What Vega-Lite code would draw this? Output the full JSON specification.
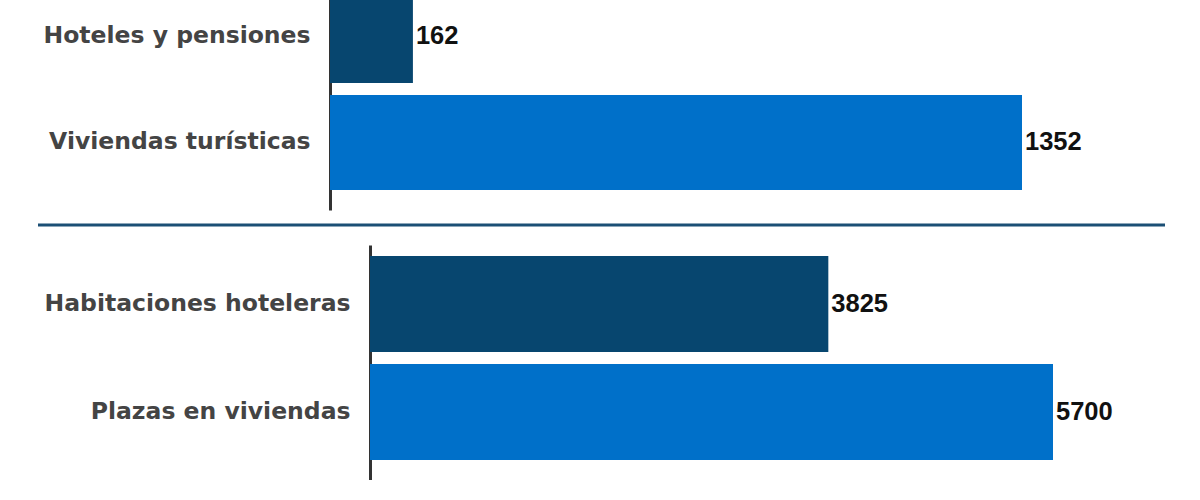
{
  "$schema": "https://vega.github.io/schema/vega-lite/v6.json",
  "background": "white",
  "padding": {"left": 36, "top": -23, "right": 0, "bottom": 0},
  "config": {
    "view": {"stroke": null},
    "axis": {"labelLimit": 500}
  },
  "datasets": {
    "establecimientos": [
      {"categoria": "Hoteles y pensiones", "tipo": "hotel", "valor": 162},
      {"categoria": "Viviendas turísticas", "tipo": "vivienda", "valor": 1352}
    ],
    "plazas": [
      {"categoria": "Habitaciones hoteleras", "tipo": "hotel", "valor": 3825},
      {"categoria": "Plazas en viviendas", "tipo": "vivienda", "valor": 5700}
    ],
    "separador": [{"sep": 1}]
  },
  "concat": [
    {
      "data": {"name": "establecimientos"},
      "width": 692,
      "height": 233,
      "encoding": {
        "y": {
          "field": "categoria", "type": "nominal", "sort": null, "title": null,
          "scale": {"paddingInner": 0.112, "paddingOuter": 0.145, "align": 0.355},
          "axis": {
            "domainColor": "#333333", "domainWidth": 3, "ticks": false, "grid": false,
            "labelFont": "DejaVu Sans", "labelFontWeight": 700, "labelFontSize": 23.5,
            "labelColor": "#444444", "labelPadding": 20, "minExtent": 292
          }
        },
        "x": {"field": "valor", "type": "quantitative", "scale": {"domain": [0, 1352], "nice": false}, "axis": null}
      },
      "layer": [
        {
          "mark": {"type": "bar"},
          "encoding": {
            "color": {"field": "tipo", "type": "nominal", "scale": {"domain": ["hotel", "vivienda"], "range": ["#07466f", "#0070c9"]}, "legend": null}
          }
        },
        {
          "mark": {"type": "text", "align": "left", "baseline": "middle", "dx": 3, "font": "Liberation Sans", "fontWeight": 700, "fontSize": 25.5, "color": "#111111"},
          "encoding": {"text": {"field": "valor", "type": "quantitative", "format": "d"}}
        }
      ]
    },
    {
      "data": {"name": "separador"},
      "width": 835,
      "height": 35,
      "mark": {"type": "rule", "color": "#1b4f75", "strokeWidth": 3},
      "encoding": {
        "x": {"datum": 0, "type": "quantitative", "scale": {"domain": [0, 1], "range": [-292, 835]}, "axis": null},
        "x2": {"datum": 1},
        "y": {"datum": 20, "type": "quantitative", "scale": {"domain": [0, 35]}, "axis": null}
      }
    },
    {
      "data": {"name": "plazas"},
      "width": 723,
      "height": 235,
      "encoding": {
        "y": {
          "field": "categoria", "type": "nominal", "sort": null, "title": null,
          "scale": {"paddingInner": 0.111, "paddingOuter": 0.1435, "align": 0.355},
          "axis": {
            "domainColor": "#333333", "domainWidth": 3, "ticks": false, "grid": false,
            "labelFont": "DejaVu Sans", "labelFontWeight": 700, "labelFontSize": 23.5,
            "labelColor": "#444444", "labelPadding": 20, "offset": -40
          }
        },
        "x": {"field": "valor", "type": "quantitative", "scale": {"domain": [0, 5700], "nice": false, "range": [40, 723]}, "axis": null}
      },
      "layer": [
        {
          "mark": {"type": "bar"},
          "encoding": {
            "color": {"field": "tipo", "type": "nominal", "scale": {"domain": ["hotel", "vivienda"], "range": ["#07466f", "#0070c9"]}, "legend": null}
          }
        },
        {
          "mark": {"type": "text", "align": "left", "baseline": "middle", "dx": 3, "font": "Liberation Sans", "fontWeight": 700, "fontSize": 25.5, "color": "#111111"},
          "encoding": {"text": {"field": "valor", "type": "quantitative", "format": "d"}}
        }
      ]
    }
  ],
  "columns": 1,
  "spacing": 0,
  "resolve": {"scale": {"x": "independent", "y": "independent", "color": "shared"}}
}
